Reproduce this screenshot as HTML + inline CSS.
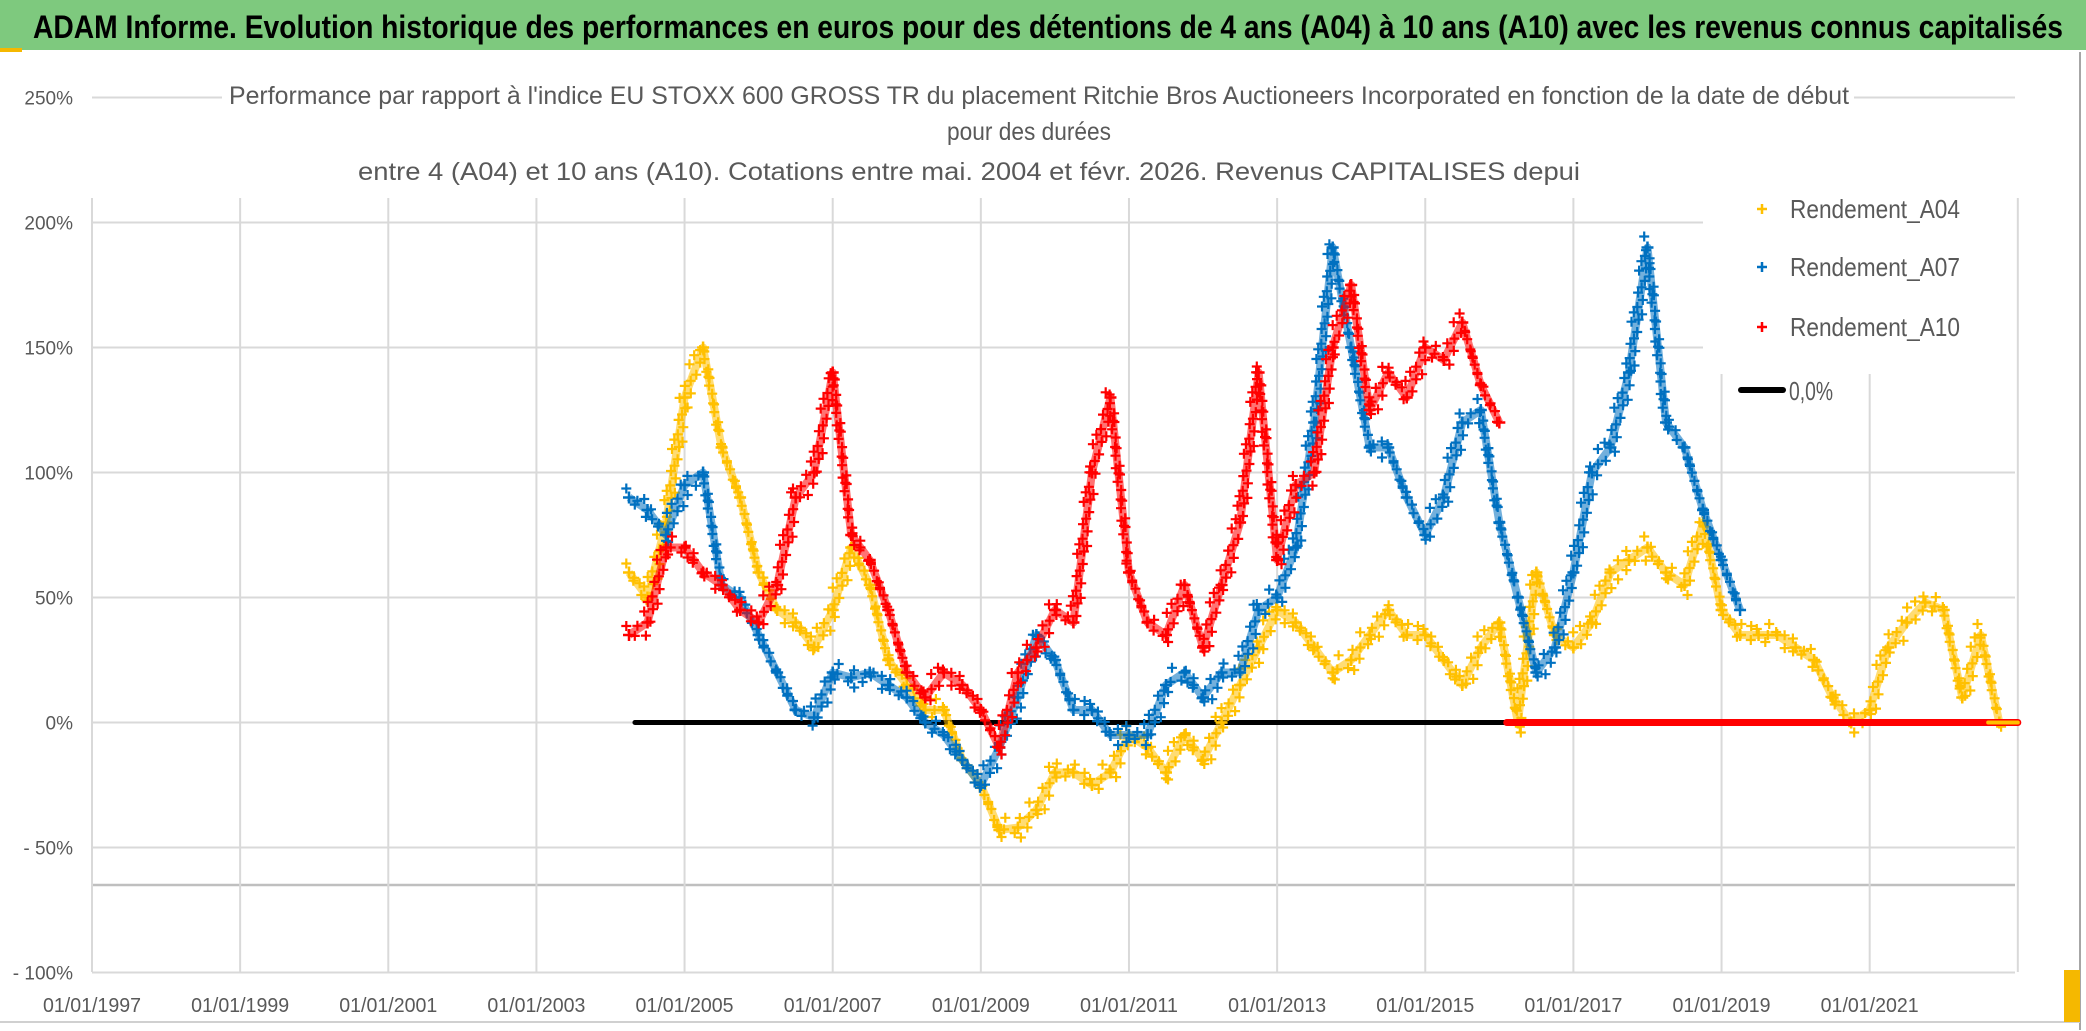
<!DOCTYPE html>
<html><head><meta charset="utf-8"><style>
html,body{margin:0;padding:0;background:#fff;}
svg{display:block;font-family:"Liberation Sans Narrow","Liberation Sans",sans-serif;}
</style></head><body>
<svg id="chart" width="2086" height="1031" viewBox="0 0 2086 1031" xmlns="http://www.w3.org/2000/svg">
<rect x="0" y="0" width="2086" height="1031" fill="#fff"/>
<rect x="0" y="0" width="2086" height="50" fill="#7ec97e"/>
<rect x="0" y="48" width="22" height="4" fill="#f5b800"/>
<text x="33" y="38" font-size="32" font-weight="bold" fill="#000" textLength="2030" lengthAdjust="spacingAndGlyphs">ADAM Informe. Evolution historique des performances en euros pour des détentions de 4 ans (A04) à 10 ans (A10) avec les revenus connus capitalisés</text>
<line x1="2080" y1="52" x2="2080" y2="1030" stroke="#a6a6a6" stroke-width="2"/>
<line x1="0" y1="1022" x2="2080" y2="1022" stroke="#d0d0d0" stroke-width="2"/>
<rect x="2064" y="970" width="16" height="52" fill="#f5b800"/>
<g id="grid"></g>
<g id="marks"></g>
<g id="overlay"></g>
</svg>
<script>
const NS="http://www.w3.org/2000/svg";
const yTicks=[250,200,150,100,50,0,-50,-100];
const yTickLabels=["250%","200%","150%","100%","50%","0%","- 50%","- 100%"];
const xTickYears=[1997,1999,2001,2003,2005,2007,2009,2011,2013,2015,2017,2019,2021];
const xTickLabels=["01/01/1997","01/01/1999","01/01/2001","01/01/2003","01/01/2005","01/01/2007","01/01/2009","01/01/2011","01/01/2013","01/01/2015","01/01/2017","01/01/2019","01/01/2021"];
const a04Start=2004.25;
const a04=[60,50,80,130,150,110,90,60,45,40,30,45,70,55,25,15,5,5,-15,-25,-43,-42,-35,-20,-20,-25,-20,-5,-10,-20,-5,-15,0,15,30,45,40,30,20,25,35,45,35,35,25,15,30,40,0,60,35,30,40,60,65,70,60,55,80,45,35,35,35,30,25,10,0,5,30,40,48,45,10,35,0];
const a07Start=2004.25;
const a07=[90,85,75,95,100,55,50,35,20,5,2,20,18,20,15,10,0,-5,-15,-25,-10,10,35,25,5,5,-5,-5,-5,15,20,10,20,20,45,50,70,120,190,150,110,110,90,75,90,120,125,80,50,20,30,60,100,110,140,190,120,110,85,65,45];
const a10Start=2004.25;
const a10=[35,40,70,70,60,55,45,40,55,90,100,140,75,65,45,20,10,20,15,5,-10,20,30,45,40,100,130,60,40,35,55,30,55,80,140,65,95,100,150,175,125,140,130,150,145,160,135,120];
const step=0.25;
const blackZero=[2004.33,2016.1];
const redZero=[2016.1,2023.0];
const yellowZero=[2022.6,2023.0];

const X0=92,XPY=74.07,Y0=722.5,YP=2.5;
const xs=y=>X0+(y-1997)*XPY;
const ys=v=>Y0-v*YP;
const grid=document.getElementById('grid'),marks=document.getElementById('marks'),ov=document.getElementById('overlay');
function el(t,a,p){const e=document.createElementNS(NS,t);for(const k in a)e.setAttribute(k,a[k]);p.appendChild(e);return e;}

yTicks.forEach((v,i)=>{
 const l=el('line',{x1:X0,x2:2015,y1:ys(v),y2:ys(v),stroke:'#d9d9d9','stroke-width':2},grid);
 
 
 const t=el('text',{x:73,y:ys(v)+7,'font-size':19,fill:'#595959','text-anchor':'end'},grid);
 t.textContent=yTickLabels[i];
 
 
});
const extra=el('line',{x1:X0,x2:2015,y1:ys(-65),y2:ys(-65),stroke:'#bfbfbf','stroke-width':2.5},grid);


xTickYears.forEach((yr,i)=>{
 const l=el('line',{x1:xs(yr),x2:xs(yr),y1:198,y2:972,stroke:'#d9d9d9','stroke-width':2},grid);
 
 
 const t=el('text',{x:xs(yr),y:1012,'font-size':20,fill:'#595959','text-anchor':'middle',textLength:98,lengthAdjust:'spacingAndGlyphs'},grid);
 t.textContent=xTickLabels[i];
 
 
});
const lastV=el('line',{x1:xs(2023),x2:xs(2023),y1:198,y2:972,stroke:'#d9d9d9','stroke-width':2},grid);



function zline(r,c,w,name){const l=el('line',{x1:xs(r[0]),x2:xs(r[1]),y1:ys(0),y2:ys(0),stroke:c,'stroke-width':w,'stroke-linecap':'round'},marks);
 
 }
zline(blackZero,'#000',5,'zero-line');

const offs=[-9,4,-3,10,-6,7,0,-11,5];
function series(arr,start,color,name,lw){
 const g=el('g',{},marks);
 
 
 const pts=arr.map((v,i)=>xs(start+i*step)+','+ys(v)).join(' ');
 el('polyline',{points:pts,fill:'none',stroke:color,'stroke-width':lw,'stroke-linejoin':'round','stroke-opacity':0.55},g);
 let d='';
 for(let i=0;i<arr.length-1;i++){
  const x1=xs(start+i*step),y1=ys(arr[i]),x2=xs(start+(i+1)*step),y2=ys(arr[i+1]);
  const n=Math.max(4,Math.ceil(Math.hypot(x2-x1,y2-y1)/6));
  for(let k=0;k<n;k++){
   const t=k/n,o=offs[(i*7+k)%offs.length];
   const x=x1+(x2-x1)*t+o*0.3,y=y1+(y2-y1)*t+o;
   d+=`M${(x-5).toFixed(1)} ${y.toFixed(1)}h10M${x.toFixed(1)} ${(y-5).toFixed(1)}v10`;
  }
 }
 el('path',{d:d,stroke:color,'stroke-width':2.2,fill:'none'},g);
 arr.forEach((v,i)=>{
  const x=xs(start+i*step),y=ys(v);
  const p=el('path',{d:`M${x-6} ${y}h12M${x} ${y-6}v12`,stroke:color,'stroke-width':2.5},g);
  
  
 });
}
series(a04,a04Start,'#ffc000','series-a04',8);
series(a07,a07Start,'#0070c0','series-a07',8);
series(a10,a10Start,'#ff0000','series-a10',8);
zline(redZero,'#ff0000',7,'zero-line-a10');
zline(yellowZero,'#ffc000',4,'zero-line-a04');

el('rect',{x:222,y:74,width:1632,height:36,fill:'#fff'},ov);
el('rect',{x:940,y:112,width:176,height:34,fill:'#fff'},ov);
el('rect',{x:352,y:150,width:1234,height:36,fill:'#fff'},ov);
const tl=[["Performance par rapport à l'indice EU STOXX 600 GROSS TR  du placement Ritchie Bros Auctioneers Incorporated en fonction de la date de début",229,104,1620],["pour des durées",947,140,164],["entre 4 (A04) et 10 ans (A10). Cotations entre mai. 2004 et févr. 2026. Revenus CAPITALISES depui",358,180,1222]];
tl.forEach(r=>{const t=el('text',{x:r[1],y:r[2],'font-size':25,fill:'#595959',textLength:r[3],lengthAdjust:'spacingAndGlyphs'},ov);t.textContent=r[0];
 
 });
el('rect',{x:1703,y:180,width:312,height:194,fill:'#fff'},ov);
const legNames=["Rendement_A04","Rendement_A07","Rendement_A10"],legCols=["#ffc000","#0070c0","#ff0000"],legY=[209,267,327];
legNames.forEach((n,i)=>{
 const g=el('g',{},ov);
 
 
 el('path',{d:`M${1757} ${legY[i]}h10M${1762} ${legY[i]-5}v10`,stroke:legCols[i],'stroke-width':2.5},g);
 const t=el('text',{x:1790,y:legY[i]+9,'font-size':26,fill:'#595959',textLength:170,lengthAdjust:'spacingAndGlyphs'},g);t.textContent=n;
});
const lg=el('g',{},ov);


el('line',{x1:1741,x2:1783,y1:390,y2:390,stroke:'#000','stroke-width':6,'stroke-linecap':'round'},lg);
const lt=el('text',{x:1789,y:400,'font-size':26,fill:'#595959',textLength:44,lengthAdjust:'spacingAndGlyphs'},lg);lt.textContent="0,0%";
</script>
</body></html>
